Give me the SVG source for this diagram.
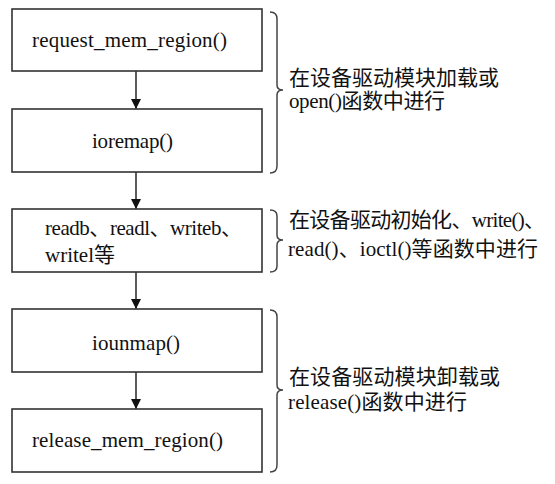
<svg xmlns="http://www.w3.org/2000/svg" width="555" height="484" viewBox="0 0 555 484">
<defs>
<style>
.box{fill:#fff;stroke:#333;stroke-width:1.6}
.t{font-family:"Liberation Serif","Noto Sans CJK SC",serif;font-size:21px;fill:#111}
.c{stroke:#333;stroke-width:1.6;fill:none}
.br{stroke:#444;stroke-width:1.5;fill:none}
</style>
<marker id="ah" viewBox="0 0 10 15" refX="10" refY="7.5" markerWidth="10" markerHeight="15" markerUnits="userSpaceOnUse" orient="auto">
<path d="M0,7.5 L0,2.5 L10,7.5 L0,12.5 Z" fill="#111"/>
</marker>
</defs>
<rect width="555" height="484" fill="#fff"/>
<g id="connectors">
<line class="c" x1="136" y1="71" x2="136" y2="109" marker-end="url(#ah)"/>
<line class="c" x1="136" y1="172" x2="136" y2="209" marker-end="url(#ah)"/>
<line class="c" x1="136" y1="272" x2="136" y2="309" marker-end="url(#ah)"/>
<line class="c" x1="136" y1="372" x2="136" y2="409" marker-end="url(#ah)"/>
</g>
<g id="n1"><rect class="box" x="12" y="9" width="250" height="62"/><text class="t" x="32" y="47" textLength="195">request_mem_region()</text></g>
<g id="n2"><rect class="box" x="12" y="109" width="250" height="63"/><text class="t" x="92" y="148" textLength="81">ioremap()</text></g>
<g id="n3"><rect class="box" x="12" y="209" width="250" height="63"/><text class="t" x="45" y="235" textLength="197">readb、readl、writeb、</text><text class="t" x="45" y="262" textLength="70">writel等</text></g>
<g id="n4"><rect class="box" x="12" y="309" width="250" height="63"/><text class="t" x="92" y="350" textLength="88">iounmap()</text></g>
<g id="n5"><rect class="box" x="12" y="409" width="250" height="63"/><text class="t" x="32" y="447" textLength="191">release_mem_region()</text></g>
<g id="brace1">
<path class="br" d="M270,12 Q277,12 277,19 L277,85 Q277,90 283,90 Q277,90 277,95 L277,166 Q277,173 270,173"/>
<text class="t" x="289" y="85" textLength="210">在设备驱动模块加载或</text>
<text class="t" x="289" y="108" textLength="156">open()函数中进行</text>
</g>
<g id="brace2">
<path class="br" d="M270,210 Q277,210 277,216 L277,235 Q277,240 283,240 Q277,240 277,245 L277,266 Q277,272 270,272"/>
<text class="t" x="289" y="227" textLength="256">在设备驱动初始化、write()、</text>
<text class="t" x="288" y="256" textLength="250">read()、ioctl()等函数中进行</text>
</g>
<g id="brace3">
<path class="br" d="M270,310 Q277,310 277,317 L277,385 Q277,390 283,390 Q277,390 277,395 L277,465 Q277,472 270,472"/>
<text class="t" x="289" y="384" textLength="211">在设备驱动模块卸载或</text>
<text class="t" x="288" y="409" textLength="179">release()函数中进行</text>
</g>
</svg>
